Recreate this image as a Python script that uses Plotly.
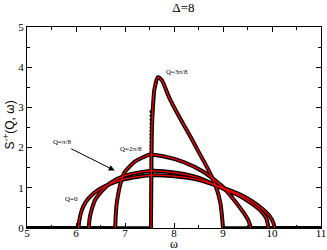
import plotly.graph_objects as go

# Curves: omega values and S(Q, omega) values
w_q0 = [6.05, 6.07, 6.12, 6.2, 6.35, 6.5, 6.75, 7.0, 7.5, 8.0, 8.5, 9.0, 9.3, 9.6, 9.8, 9.95, 10.03, 10.05]
s_q0 = [0, 0.2, 0.45, 0.65, 0.85, 0.98, 1.12, 1.22, 1.31, 1.29, 1.2, 1.0, 0.86, 0.66, 0.48, 0.3, 0.12, 0]

w_q1 = [6.26, 6.28, 6.33, 6.4, 6.55, 6.7, 7.0, 7.5, 8.0, 8.5, 9.0, 9.3, 9.55, 9.75, 9.88, 9.93]
s_q1 = [0, 0.25, 0.5, 0.72, 0.95, 1.12, 1.3, 1.42, 1.38, 1.25, 0.98, 0.82, 0.64, 0.45, 0.25, 0]

w_q2 = [6.8, 6.81, 6.83, 6.87, 6.93, 7.0, 7.2, 7.5, 7.8, 8.2, 8.6, 9.0, 9.25, 9.42, 9.52, 9.57]
s_q2 = [0, 0.3, 0.6, 0.9, 1.2, 1.4, 1.65, 1.82, 1.78, 1.64, 1.4, 1.02, 0.66, 0.38, 0.18, 0]

w_q3 = [7.53, 7.55, 7.57, 7.6, 7.67, 7.75, 7.9, 8.1, 8.3, 8.5, 8.7, 8.85, 8.95, 9.0]
s_q3 = [0, 2.5, 3.0, 3.45, 3.75, 3.68, 3.25, 2.78, 2.35, 1.9, 1.45, 1.05, 0.6, 0]

# discrete black points on the steep edge of Q=3pi/8
w_edge = 7.53
s_edge = [0.08, 0.17, 0.26, 0.35, 0.44, 0.53, 0.62, 0.71, 0.8, 0.89, 0.98, 1.07, 1.16, 1.25,
          1.34, 1.43, 1.52, 1.61, 1.7, 1.79, 1.88, 1.97, 2.06, 2.15, 2.24, 2.33, 2.42, 2.51,
          2.6, 2.7, 2.8, 2.9]

x_range = [5, 11]
y_range = [0, 5]
x_ticks = [5, 6, 7, 8, 9, 10, 11]
y_ticks = [0, 1, 2, 3, 4, 5]

curves = [(w_q0, s_q0), (w_q1, s_q1), (w_q2, s_q2), (w_q3, s_q3)]

SERIF = "Liberation Serif, Times New Roman, serif"

fig = go.Figure()

# zero baseline outside each curve's support
bx, by = [], []
for w, s in curves:
    bx += [x_range[0], w[0], None, w[-1], x_range[1], None]
    by += [0, 0, None, 0, 0, None]
fig.add_trace(go.Scatter(x=bx, y=by, mode="lines", line=dict(color="black", width=3.5),
                         showlegend=False, hoverinfo="skip", cliponaxis=False))

for w, s in curves:
    fig.add_trace(go.Scatter(x=w, y=s, mode="lines",
                             line=dict(color="black", width=4, shape="spline", smoothing=0.6),
                             showlegend=False))
fig.add_trace(go.Scatter(x=[w_edge] * len(s_edge), y=s_edge, mode="markers",
                         marker=dict(color="black", size=3), showlegend=False))
for w, s in curves:
    fig.add_trace(go.Scatter(x=w, y=s, mode="lines",
                             line=dict(color="red", width=1.3, shape="spline", smoothing=0.6),
                             showlegend=False))

ann_font = dict(family=SERIF, size=7, color="black")
fig.add_annotation(x=8.07, y=3.88, text="Q=3π/8", showarrow=False, font=ann_font)
fig.add_annotation(x=7.13, y=1.97, text="Q=2π/8", showarrow=False, font=ann_font)
fig.add_annotation(x=5.72, y=2.15, text="Q=π/8", showarrow=False, font=ann_font)
fig.add_annotation(x=5.9, y=0.73, text="Q=0", showarrow=False, font=ann_font)
fig.add_annotation(x=6.79, y=1.43, ax=5.87, ay=1.99, axref="x", ayref="y", xref="x", yref="y",
                   text="", showarrow=True, arrowhead=2, arrowsize=1.2, arrowwidth=1,
                   arrowcolor="black")

# axis titles as annotations
fig.add_annotation(xref="paper", yref="paper", x=0.5, y=-0.082, text="ω", showarrow=False,
                   xanchor="center", yanchor="middle",
                   font=dict(family=SERIF, size=12, color="black"))
fig.add_annotation(xref="paper", yref="paper", x=-0.058, y=0.515,
                   text="S<sup>-+</sup>(Q, ω)", showarrow=False, textangle=-90,
                   xanchor="center", yanchor="middle",
                   font=dict(family="Liberation Sans, Arial, sans-serif", size=12, color="black"))

axis_common = dict(showline=True, linecolor="black", linewidth=1, mirror="ticks",
                   ticks="inside", ticklen=5, tickcolor="black", showgrid=False, zeroline=False,
                   automargin=False,
                   tickfont=dict(family=SERIF, size=11, color="black"))

fig.update_layout(
    width=327, height=250,
    margin=dict(l=27, r=6, t=27, b=22),
    paper_bgcolor="white", plot_bgcolor="white",
    title=dict(text="Δ=8", x=0.561, xanchor="center", y=0.972, yanchor="middle",
               font=dict(family=SERIF, size=13, color="black")),
    xaxis=dict(range=x_range, tickvals=x_ticks, ticklabelstandoff=-5, **axis_common,
               minor=dict(dtick=0.5, ticks="inside", ticklen=3, tickcolor="black")),
    yaxis=dict(range=y_range, tickvals=y_ticks, ticklabelstandoff=0, **axis_common,
               minor=dict(dtick=0.5, ticks="inside", ticklen=3, tickcolor="black")),
)

fig.write_html("out.html", config={"displayModeBar": False},
               post_script="document.body.style.margin='0px';")
